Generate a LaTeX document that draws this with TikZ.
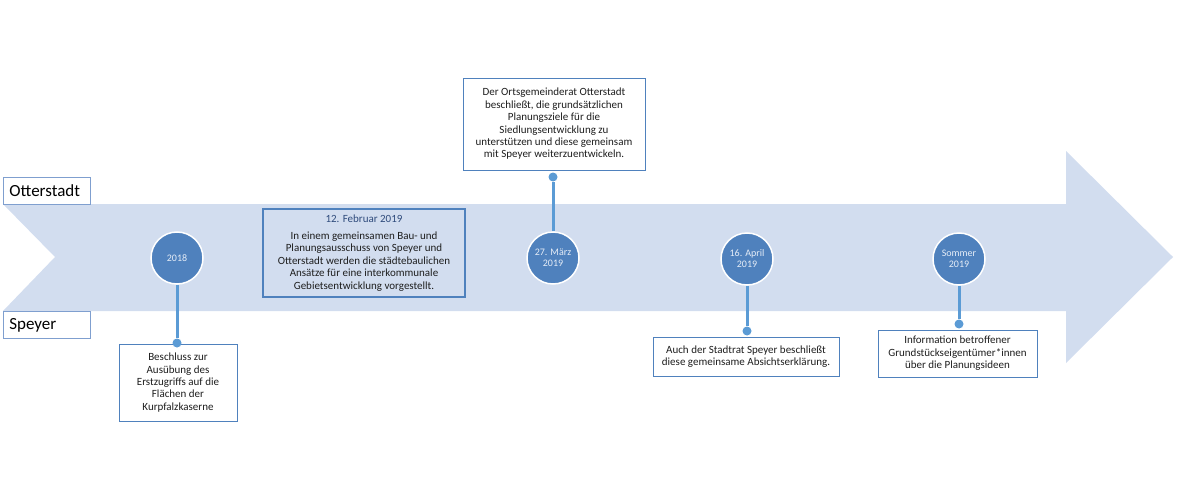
\documentclass[tikz,border=0pt]{standalone}
\usepackage{fontspec}
\setmainfont{Carlito}
\definecolor{bandblue}{HTML}{D2DDEF}
\definecolor{yearblue}{HTML}{4F81BD}
\definecolor{stemblue}{HTML}{5B9BD5}
\definecolor{boxblue}{HTML}{4F81BD}
\definecolor{townblue}{HTML}{7F9FCF}
\definecolor{titleblue}{HTML}{2F4B7C}
\definecolor{boxtext}{HTML}{1E1E1E}
\definecolor{yeartext}{HTML}{E6EDF7}
\tikzset{circ/.style = {fill = stemblue, circle, inner sep = 0, minimum size = 9}}
\tikzset{year/.style = {fill = yearblue, draw = white, line width = 1.5, circle, inner sep = 0,
    minimum size = 52, align = center, text = yeartext, font = \fontsize{10}{11}\selectfont}}
\tikzset{event/.style = {draw = boxblue, fill = white, line width = 0.8, inner sep = 0,
    align = center, text = boxtext, font = \fontsize{11}{12.4}\selectfont}}
\tikzset{town/.style = {draw = townblue, fill = white, line width = 0.8, inner xsep = 6, inner ysep = 0,
    anchor = north west, text width = 75, minimum height = 27, align = left, font = \fontsize{17}{20}\selectfont}}
\tikzset{stem/.style = {draw = stemblue, line width = 3}}

\begin{document}
\begin{tikzpicture}[x=1pt, y=-1pt]
    \useasboundingbox (0, 0) rectangle (1180, 500);

    \fill [bandblue] (3, 204) -- (1066, 204) -- (1066, 151) -- (1173, 257) -- (1066, 363)
      -- (1066, 311) -- (3, 311) -- (55, 257) -- cycle;

    \node [town] (otterstadt) at (3, 177) {Otterstadt};
    \node [town] (speyer) at (3, 311) {Speyer};

    \node [year] (y2018) at (177, 258) {2018};
    \node [year] (ymaerz) at (553, 258) {27. März\\2019};
    \node [year] (yapril) at (747, 259) {16. April\\2019};
    \node [year] (ysommer) at (959, 259) {Sommer\\2019};

    \node [event, minimum width = 118, minimum height = 77] (e2018) at (178, 382.5)
      {Beschluss zur\\Ausübung des\\Erstzugriffs auf die\\Flächen der\\Kurpfalzkaserne};
    \node [event, fill = bandblue, line width = 1.3, minimum width = 202, minimum height = 88] (efeb) at (364, 253)
      {\textcolor{titleblue}{12. Februar 2019}\\[4.5pt]In einem gemeinsamen Bau- und\\Planungsausschuss von Speyer und\\Otterstadt werden die städtebaulichen\\Ansätze für eine interkommunale\\Gebietsentwicklung vorgestellt.};
    \node [event, minimum width = 182, minimum height = 92] (emaerz) at (554, 124)
      {Der Ortsgemeinderat Otterstadt\\beschließt, die grundsätzlichen\\Planungsziele für die\\Siedlungsentwicklung zu\\unterstützen und diese gemeinsam\\mit Speyer weiterzuentwickeln.};
    \node [event, minimum width = 186, minimum height = 39] (eapril) at (746, 356.5)
      {Auch der Stadtrat Speyer beschließt\\diese gemeinsame Absichtserklärung.};
    \node [event, minimum width = 159, minimum height = 47] (esommer) at (957.5, 353.5)
      {Information betroffener\\Grundstückseigentümer*innen\\über die Planungsideen};

    \node [circ] (d2018) at (177, 343) {};
    \node [circ] (dmaerz) at (553, 177) {};
    \node [circ] (dapril) at (747, 331) {};
    \node [circ] (dsommer) at (959, 324) {};

    \draw [stem] (y2018.south) -- (d2018);
    \draw [stem] (ymaerz.north) -- (dmaerz);
    \draw [stem] (yapril.south) -- (dapril);
    \draw [stem] (ysommer.south) -- (dsommer);
\end{tikzpicture}
\end{document}
